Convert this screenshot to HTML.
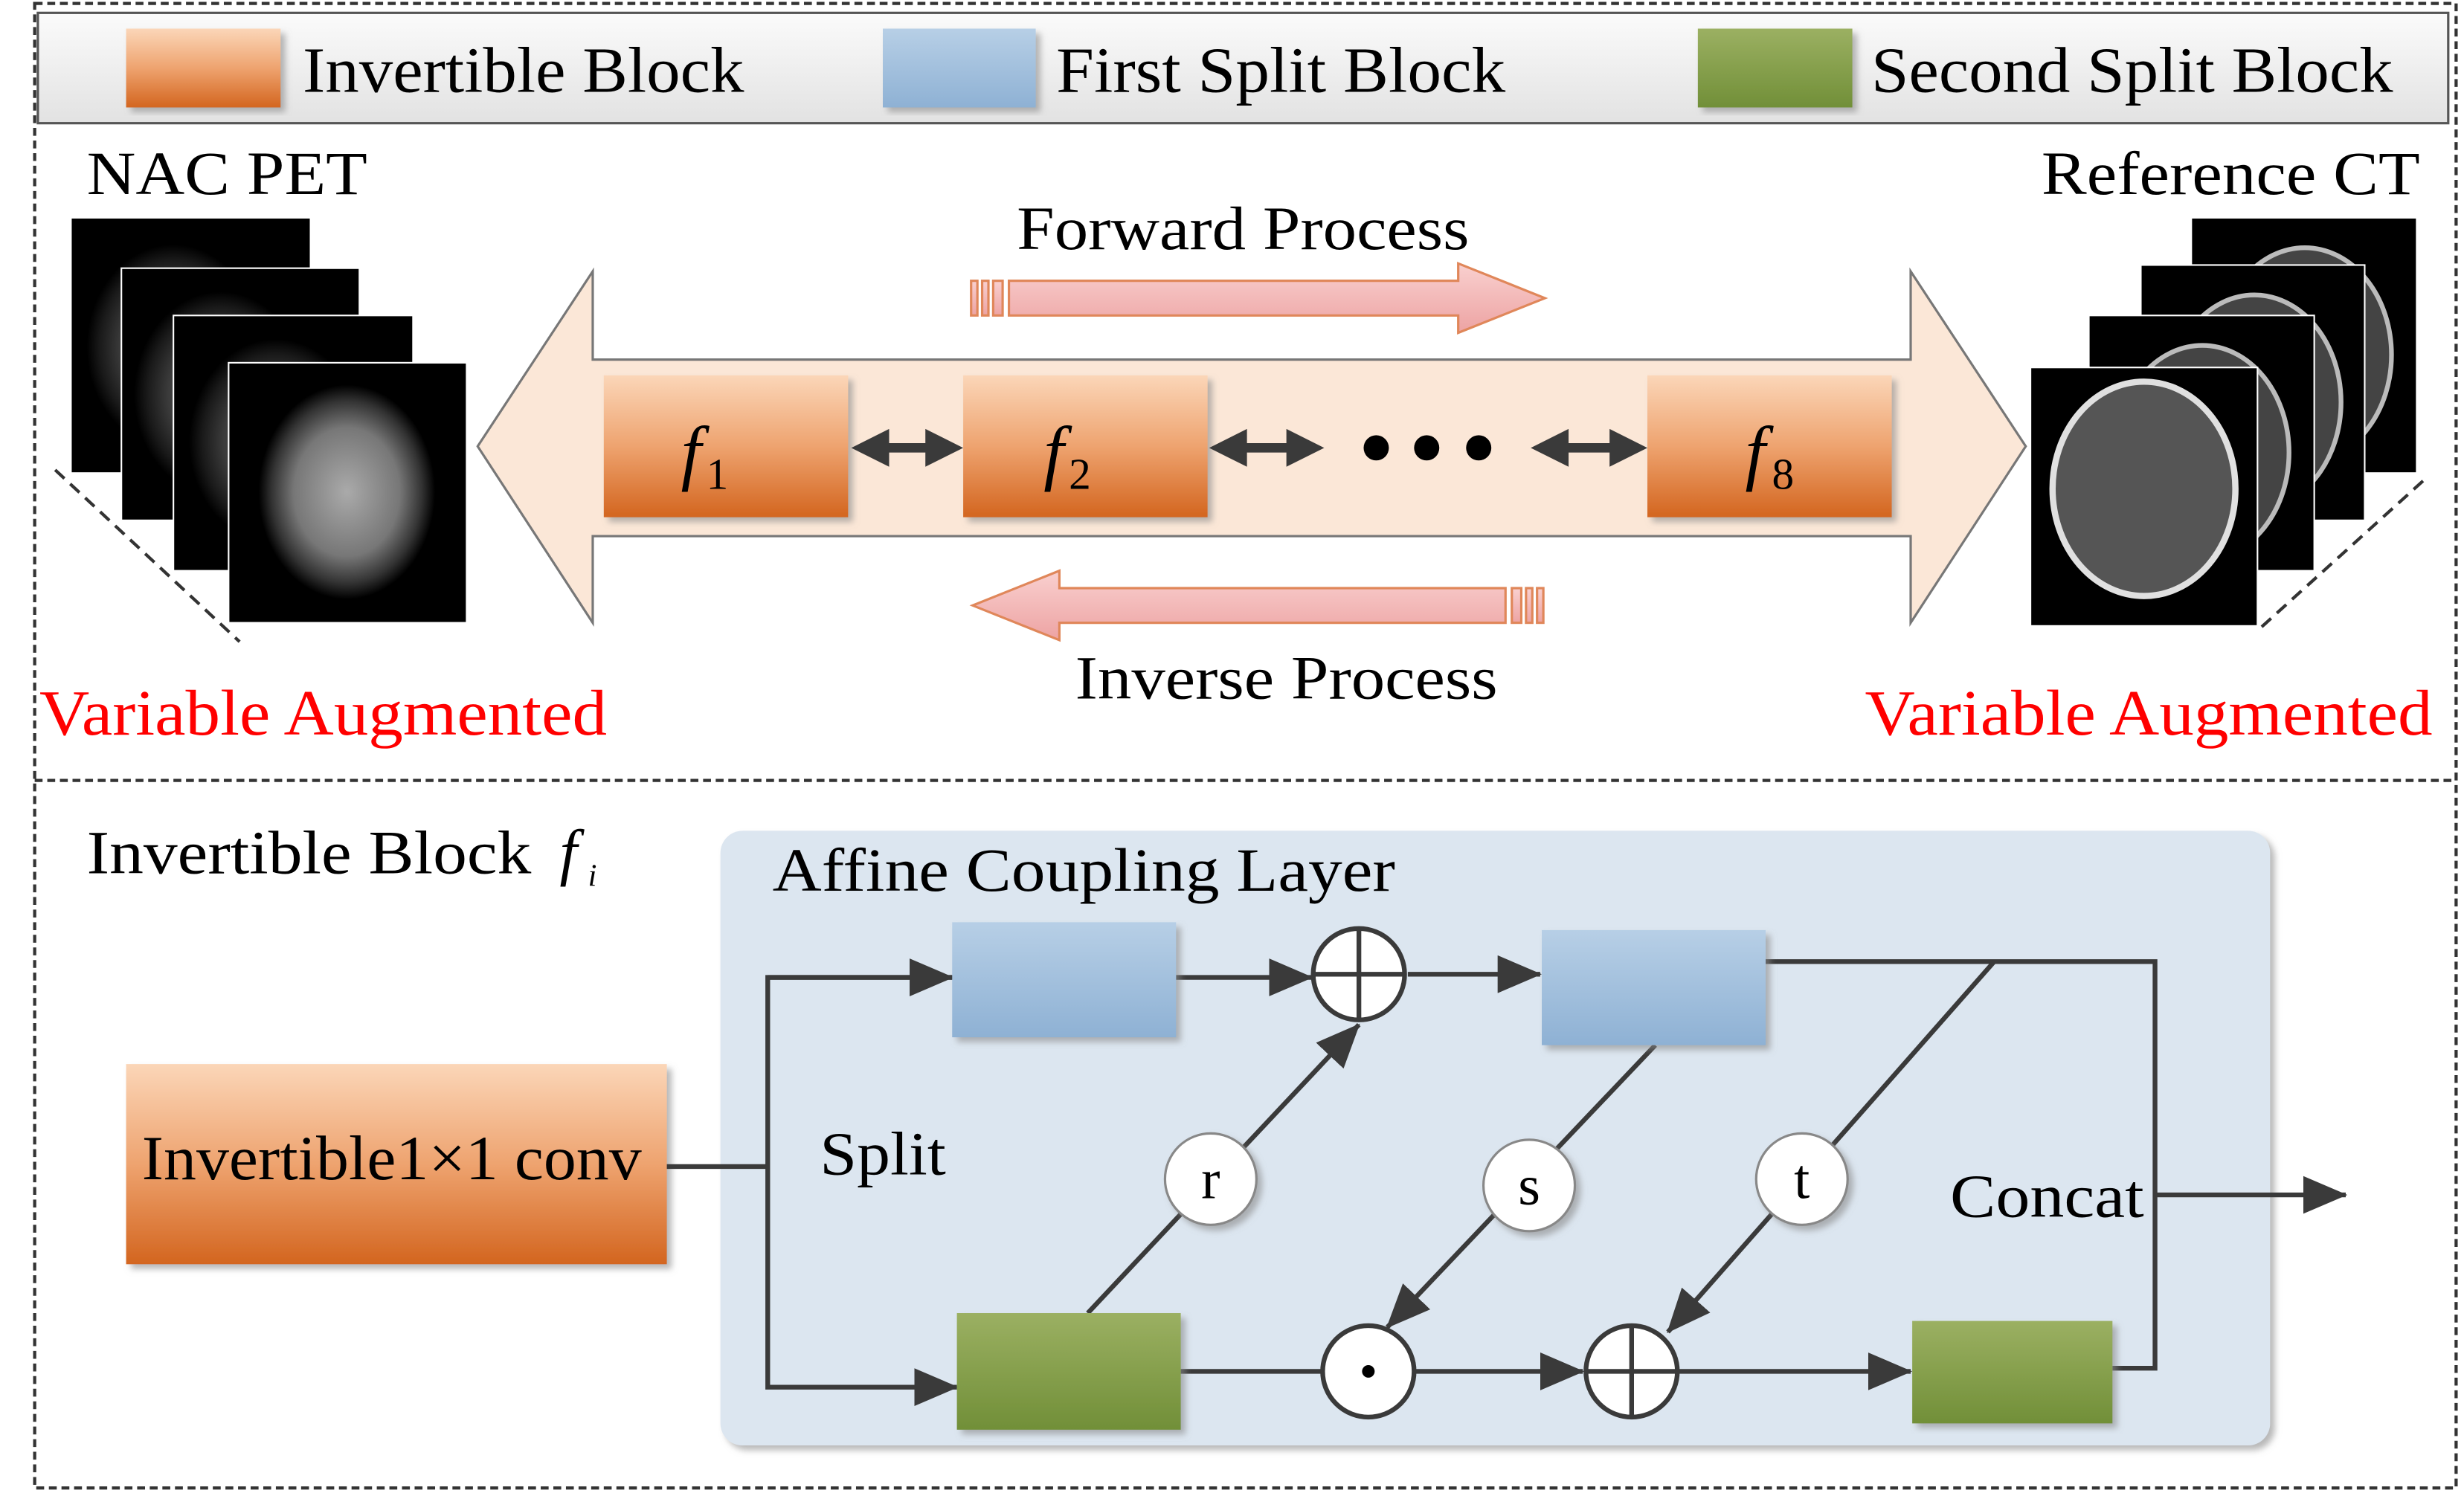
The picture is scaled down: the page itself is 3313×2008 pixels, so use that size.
<!DOCTYPE html>
<html><head><meta charset="utf-8"><style>html,body{margin:0;padding:0;background:#fff}svg{display:block}</style></head><body>
<svg width="3313" height="2008" viewBox="0 0 1563 947" xmlns="http://www.w3.org/2000/svg" font-family="Liberation Serif, serif">
<defs>
<linearGradient id="org" x1="0" y1="0" x2="0" y2="1"><stop offset="0" stop-color="#fbd6b8"/><stop offset="0.5" stop-color="#eea36f"/><stop offset="1" stop-color="#d3651f"/></linearGradient>
<linearGradient id="blu" x1="0" y1="0" x2="0" y2="1"><stop offset="0" stop-color="#b7cfe6"/><stop offset="1" stop-color="#8eb1d4"/></linearGradient>
<linearGradient id="grn" x1="0" y1="0" x2="0" y2="1"><stop offset="0" stop-color="#9bb062"/><stop offset="1" stop-color="#718f38"/></linearGradient>
<linearGradient id="gry" x1="0" y1="0" x2="0" y2="1"><stop offset="0" stop-color="#fbfbfb"/><stop offset="1" stop-color="#e2e2e2"/></linearGradient>
<linearGradient id="pnk" x1="0" y1="0" x2="0" y2="1"><stop offset="0" stop-color="#f9d0cf"/><stop offset="1" stop-color="#eda3a3"/></linearGradient>
<radialGradient id="brain" cx="0.5" cy="0.5" r="0.5"><stop offset="0" stop-color="#aaa"/><stop offset="0.6" stop-color="#777"/><stop offset="0.85" stop-color="#333"/><stop offset="1" stop-color="#000"/></radialGradient>
<marker id="ab" markerWidth="28" markerHeight="24" refX="27" refY="12" orient="auto" markerUnits="userSpaceOnUse" viewBox="0 0 28 24"><path d="M0,0 L28,12 L0,24 Z" fill="#3a3a3a"/></marker>
<filter id="sh"><feDropShadow dx="3" dy="3" stdDeviation="2" flood-color="#888" flood-opacity="0.6"/></filter>
</defs>
<rect x="22" y="2" width="1536" height="942" fill="none" stroke="#333" stroke-width="2" stroke-dasharray="5,3"/>
<line x1="22" y1="495" x2="1558" y2="495" stroke="#333" stroke-width="2" stroke-dasharray="5,3"/>
<rect x="24" y="8" width="1529" height="70" fill="url(#gry)" stroke="#555" stroke-width="1.5"/>
<rect x="80" y="18" width="98" height="50" fill="url(#org)" filter="url(#sh)"/>
<text x="192" y="58" font-size="41" textLength="280" lengthAdjust="spacingAndGlyphs">Invertible Block</text>
<rect x="560" y="18" width="97" height="50" fill="url(#blu)" filter="url(#sh)"/>
<text x="670" y="58" font-size="41" textLength="285" lengthAdjust="spacingAndGlyphs">First Split Block</text>
<rect x="1077" y="18" width="98" height="50" fill="url(#grn)" filter="url(#sh)"/>
<text x="1187" y="58" font-size="41" textLength="331" lengthAdjust="spacingAndGlyphs">Second Split Block</text>
<text x="55" y="123" font-size="39" textLength="178" lengthAdjust="spacingAndGlyphs">NAC PET</text>
<text x="1295" y="123" font-size="39" textLength="240" lengthAdjust="spacingAndGlyphs">Reference CT</text>
<polygon points="303,283 376,172 376,228 1212,228 1212,172 1285,283 1212,395 1212,340 376,340 376,395" fill="#fbe7d7" stroke="#777" stroke-width="1.5"/>
<rect x="383" y="238" width="155" height="90" fill="url(#org)" filter="url(#sh)"/>
<rect x="611" y="238" width="155" height="90" fill="url(#org)" filter="url(#sh)"/>
<rect x="1045" y="238" width="155" height="90" fill="url(#org)" filter="url(#sh)"/>
<text x="432" y="302" font-size="46" font-style="italic">f</text><text x="448" y="310" font-size="28">1</text>
<text x="662" y="302" font-size="46" font-style="italic">f</text><text x="678" y="310" font-size="28">2</text>
<text x="1107" y="302" font-size="46" font-style="italic">f</text><text x="1124" y="310" font-size="28">8</text>
<g fill="#3a3a3a">
<polygon points="540,284 564,272 564,281 587,281 587,272 611,284 587,296 587,287 564,287 564,296"/>
<polygon points="767,284 791,272 791,281 816,281 816,272 840,284 816,296 816,287 791,287 791,296"/>
<polygon points="971,284 995,272 995,281 1021,281 1021,272 1045,284 1021,296 1021,287 995,287 995,296"/>
</g>
<circle cx="873" cy="284" r="8" fill="#000"/><circle cx="905" cy="284" r="8" fill="#000"/><circle cx="938" cy="284" r="8" fill="#000"/>
<text x="645" y="158" font-size="39" textLength="287" lengthAdjust="spacingAndGlyphs">Forward Process</text>
<g fill="url(#pnk)" stroke="#e0875a" stroke-width="1.5">
<rect x="616" y="178" width="4" height="22"/><rect x="623" y="178" width="4" height="22"/><rect x="630" y="178" width="6" height="22"/>
<polygon points="640,178 925,178 925,167 980,189 925,211 925,200 640,200"/>
<rect x="975" y="373" width="4" height="22"/><rect x="968" y="373" width="4" height="22"/><rect x="959" y="373" width="6" height="22"/>
<polygon points="955,373 672,373 672,362 617,384 672,406 672,395 955,395"/>
</g>
<text x="682" y="443" font-size="39" textLength="268" lengthAdjust="spacingAndGlyphs">Inverse Process</text>
<text x="25" y="466" font-size="41" fill="#f00" textLength="360" lengthAdjust="spacingAndGlyphs">Variable Augmented</text>
<text x="1183" y="466" font-size="41" fill="#f00" textLength="360" lengthAdjust="spacingAndGlyphs">Variable Augmented</text>
<line x1="35" y1="298" x2="152" y2="407" stroke="#333" stroke-width="2" stroke-dasharray="8,5"/>
<g stroke="#fff" stroke-width="1">
<rect x="45" y="138" width="152" height="162" fill="#000"/><ellipse cx="110" cy="220" rx="55" ry="65" fill="url(#brain)" opacity="0.5" stroke="none"/>
<rect x="77" y="170" width="151" height="160" fill="#000"/><ellipse cx="140" cy="250" rx="55" ry="65" fill="url(#brain)" opacity="0.5" stroke="none"/>
<rect x="110" y="200" width="152" height="162" fill="#000"/><ellipse cx="175" cy="280" rx="55" ry="65" fill="url(#brain)" opacity="0.5" stroke="none"/>
<rect x="145" y="230" width="151" height="165" fill="#000"/><ellipse cx="220" cy="312" rx="56" ry="68" fill="url(#brain)" stroke="none"/>
</g>
<line x1="1537" y1="305" x2="1432" y2="400" stroke="#333" stroke-width="2" stroke-dasharray="8,5"/>
<g stroke="#fff" stroke-width="1">
<rect x="1390" y="138" width="143" height="162" fill="#000"/>
<ellipse cx="1462" cy="225" rx="55" ry="68" fill="#444" stroke="#bbb" stroke-width="3"/>
<rect x="1358" y="168" width="142" height="162" fill="#000"/>
<ellipse cx="1430" cy="255" rx="55" ry="68" fill="#444" stroke="#bbb" stroke-width="3"/>
<rect x="1325" y="200" width="143" height="162" fill="#000"/>
<ellipse cx="1397" cy="287" rx="55" ry="68" fill="#444" stroke="#bbb" stroke-width="3"/>
<rect x="1288" y="233" width="144" height="164" fill="#000"/>
<ellipse cx="1360" cy="310" rx="58" ry="68" fill="#555" stroke="#e0e0e0" stroke-width="4"/>
</g>
<text x="55" y="554" font-size="39" textLength="282" lengthAdjust="spacingAndGlyphs">Invertible Block</text>
<text x="355" y="554" font-size="40" font-style="italic">f</text><text x="373" y="562" font-size="20" font-style="italic">i</text>
<rect x="457" y="527" width="983" height="390" rx="14" fill="#dce6f0" filter="url(#sh)"/>
<text x="490" y="565" font-size="39" textLength="395" lengthAdjust="spacingAndGlyphs">Affine Coupling Layer</text>
<rect x="80" y="675" width="343" height="127" fill="url(#org)" filter="url(#sh)"/>
<text x="90" y="748" font-size="40" textLength="317" lengthAdjust="spacingAndGlyphs">Invertible1×1 conv</text>
<text x="520" y="745" font-size="39" textLength="80" lengthAdjust="spacingAndGlyphs">Split</text>
<text x="1237" y="772" font-size="39" textLength="123" lengthAdjust="spacingAndGlyphs">Concat</text>
<g stroke="#3a3a3a" stroke-width="3" fill="none">
<polyline points="423,740 487,740"/>
<polyline points="605,620 487,620 487,880 607,880" marker-end="url(#ab)"/>
<line x1="487" y1="620" x2="604" y2="620" marker-end="url(#ab)"/>
<line x1="746" y1="620" x2="832" y2="620" marker-end="url(#ab)"/>
<line x1="893" y1="618" x2="977" y2="618" marker-end="url(#ab)"/>
<polyline points="1120,610 1367,610 1367,868 1340,868"/>
<line x1="1367" y1="758" x2="1488" y2="758" marker-end="url(#ab)"/>
<line x1="749" y1="870" x2="838" y2="870"/>
<line x1="898" y1="870" x2="1004" y2="870" marker-end="url(#ab)"/>
<line x1="1065" y1="870" x2="1212" y2="870" marker-end="url(#ab)"/>
<line x1="690" y1="833" x2="862" y2="650" marker-end="url(#ab)"/>
<line x1="1050" y1="663" x2="880" y2="842" marker-end="url(#ab)"/>
<line x1="1265" y1="610" x2="1058" y2="845" marker-end="url(#ab)"/>
</g>
<rect x="604" y="585" width="142" height="73" fill="url(#blu)" filter="url(#sh)"/>
<rect x="978" y="590" width="142" height="73" fill="url(#blu)" filter="url(#sh)"/>
<rect x="607" y="833" width="142" height="74" fill="url(#grn)" filter="url(#sh)"/>
<rect x="1213" y="838" width="127" height="65" fill="url(#grn)" filter="url(#sh)"/>
<g stroke="#3a3a3a" stroke-width="3" fill="#fff">
<circle cx="862" cy="618" r="29"/><circle cx="868" cy="870" r="29"/><circle cx="1035" cy="870" r="29"/>
</g>
<g stroke="#3a3a3a" stroke-width="3">
<line x1="833" y1="618" x2="891" y2="618"/><line x1="862" y1="589" x2="862" y2="647"/>
<line x1="1006" y1="870" x2="1064" y2="870"/><line x1="1035" y1="841" x2="1035" y2="899"/>
</g>
<circle cx="868" cy="870" r="4" fill="#000"/>
<g stroke="#888" stroke-width="1.5" fill="#fff" filter="url(#sh)">
<circle cx="768" cy="748" r="29"/><circle cx="970" cy="752" r="29"/><circle cx="1143" cy="748" r="29"/>
</g>
<text x="768" y="760" font-size="36" text-anchor="middle">r</text>
<text x="970" y="764" font-size="36" text-anchor="middle">s</text>
<text x="1143" y="760" font-size="36" text-anchor="middle">t</text>
</svg>
</body></html>
